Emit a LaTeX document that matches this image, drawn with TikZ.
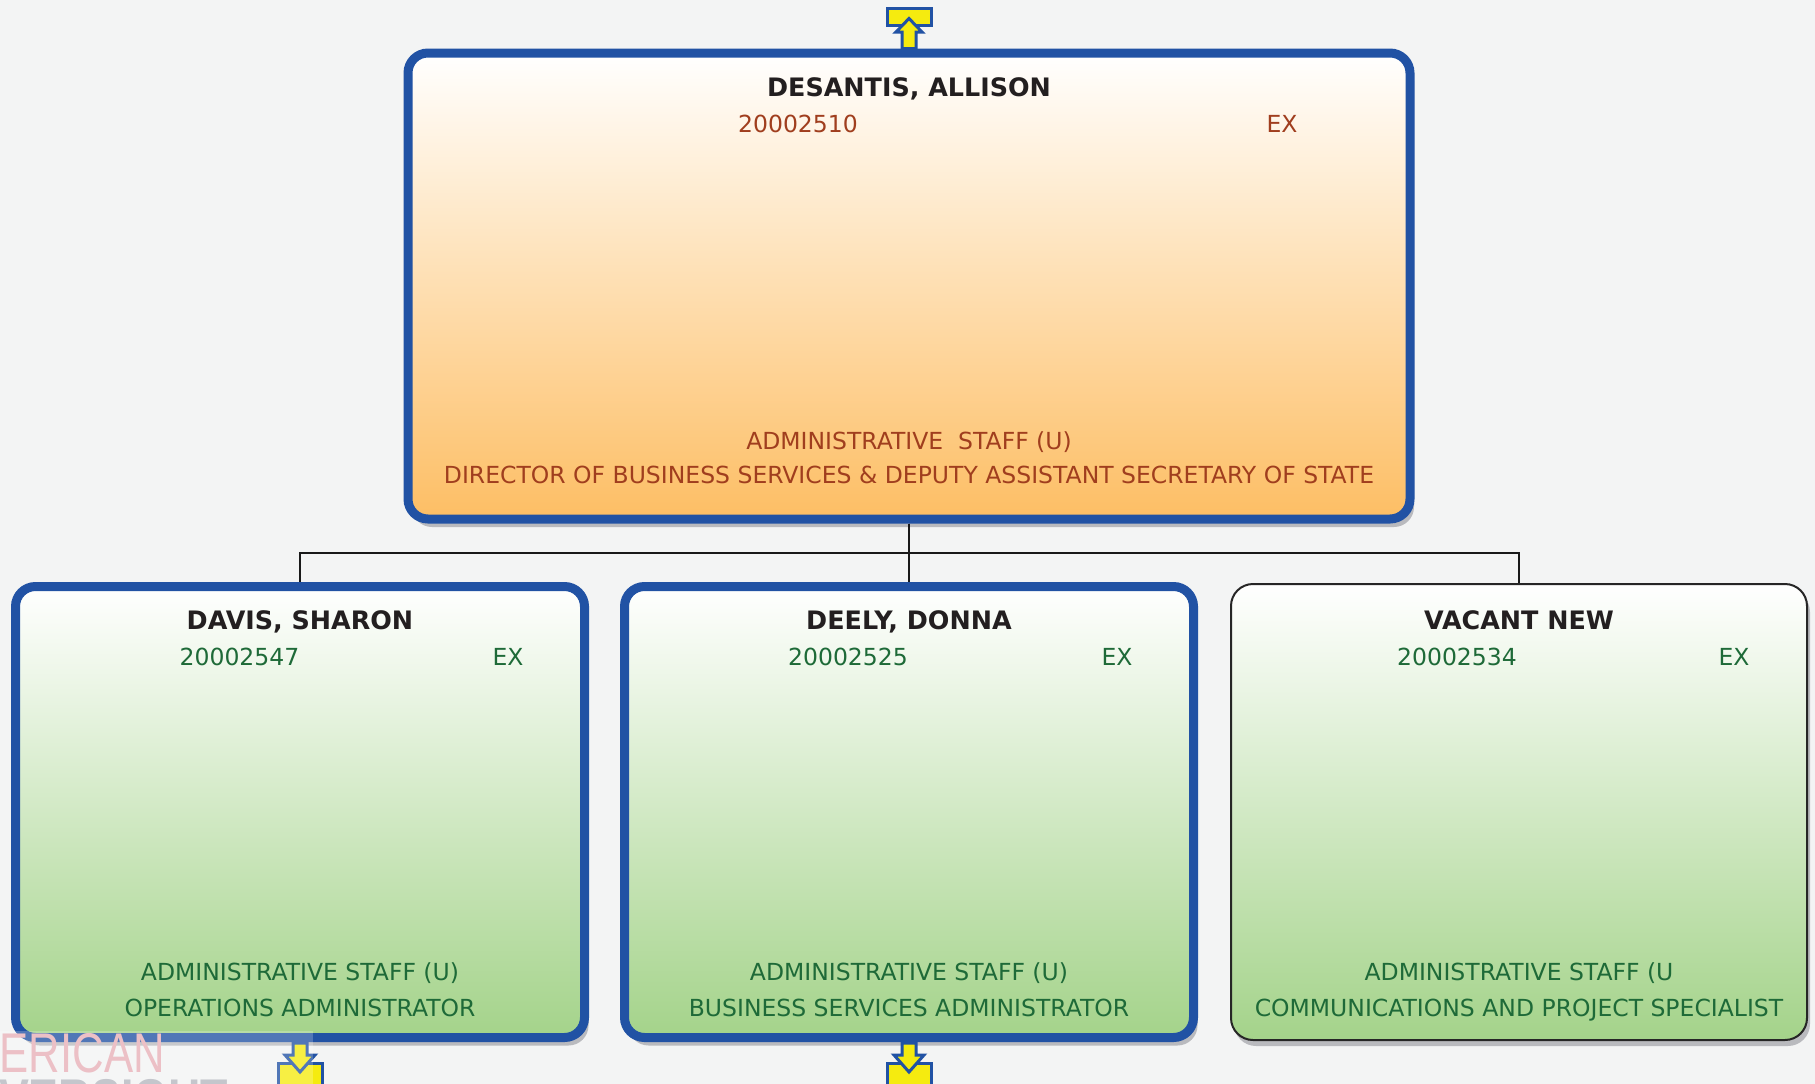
\documentclass[tikz,border=0pt]{standalone}
\usepackage{fontspec}
\setmainfont{DejaVu Sans}
\newfontfamily\wmfont{Liberation Sans}
\usetikzlibrary{shadows}
\definecolor{bg}{RGB}{243,244,244}
\definecolor{boxblue}{RGB}{33,82,164}
\definecolor{orangeB}{RGB}{253,190,100}
\definecolor{greenB}{RGB}{164,211,138}
\definecolor{txtbrown}{RGB}{160,62,30}
\definecolor{txtgreen}{RGB}{30,106,56}
\definecolor{txtname}{RGB}{35,31,32}
\definecolor{iconyellow}{RGB}{245,235,15}
\definecolor{shadowgray}{RGB}{185,186,190}
\definecolor{wmpink}{RGB}{236,192,198}
\definecolor{wmgray}{RGB}{196,198,204}
\begin{document}
\begin{tikzpicture}[x=1pt,y=-1pt,
 box/.style={rectangle, rounded corners=20pt, inner sep=0pt},
 bluebox/.style={box, draw=boxblue, line width=9pt, drop shadow={shadow xshift=4pt, shadow yshift=-8pt, fill=shadowgray, opacity=1}},
 plainbox/.style={box, rounded corners=22pt, draw=black!85, line width=2pt, drop shadow={shadow xshift=3pt, shadow yshift=-6pt, fill=shadowgray, opacity=1}},
 topfill/.style={top color=white, bottom color=orangeB},
 greenfill/.style={top color=white, bottom color=greenB},
 nametxt/.style={anchor=base, inner sep=0pt, font=\fontsize{25.4}{30}\selectfont\bfseries, text=txtname},
 brtxt/.style={anchor=base, inner sep=0pt, font=\fontsize{23.5}{28}\selectfont, text=txtbrown},
 grtxt/.style={brtxt, text=txtgreen},
 conn/.style={draw=black!90, line width=2pt},
 icon/.style={fill=iconyellow, draw=boxblue, line width=3pt, line join=miter},
]
\fill[bg] (0,0) rectangle (1815,1084);
\useasboundingbox (0,0) rectangle (1815,1084);
\clip (0,0) rectangle (1815,1084);

% boxes
\node[bluebox, topfill, minimum width=1002pt, minimum height=466pt] (top) at (909,286) {};
\node[bluebox, greenfill, minimum width=569pt, minimum height=451pt] (c1) at (300,812) {};
\node[bluebox, greenfill, minimum width=569pt, minimum height=451pt] (c2) at (909,812) {};
\node[plainbox, greenfill, minimum width=576pt, minimum height=456pt] (c3) at (1519,812) {};

% connectors
\coordinate (bus) at (0,553);
\draw[conn] (top.south) -- (top.south |- bus) -| (c1.north);
\draw[conn] (top.south) -- (top.south |- bus) -| (c2.north);
\draw[conn] (top.south) -- (top.south |- bus) -| (c3.north);

% icons
\begin{scope}[shift={(top.north)}]
  \draw[icon] (-22,-40) rectangle (22,-23);
  \draw[icon] (0,-30) -- (13,-16.5) -- (7,-16.5) -- (7,0) -- (-7,0) -- (-7,-16.5) -- (-13,-16.5) -- cycle;
\end{scope}
\foreach \c in {c1,c2}{
  \begin{scope}[shift={(\c.south)}]
    \draw[icon] (-22,21.5) rectangle (22,50);
    \draw[icon] (-7,1) -- (7,1) -- (7,13) -- (15,13) -- (0,30) -- (-15,13) -- (-7,13) -- cycle;
  \end{scope}
}

% top box text
\node[nametxt] (tname) at (909,96) {DESANTIS, ALLISON};
\node[brtxt] (tnum) at (798,132) {20002510};
\node[brtxt] (tex) at (1282,132) {EX};
\node[brtxt] (tadm) at (909,449) {ADMINISTRATIVE\ \ STAFF (U)};
\node[brtxt] (ttitle) at (909,483) {DIRECTOR OF BUSINESS SERVICES \& DEPUTY ASSISTANT SECRETARY OF STATE};

% child 1
\node[nametxt] (n1) at (300,629) {DAVIS, SHARON};
\node[grtxt] (num1) at (239.5,665) {20002547};
\node[grtxt] (ex1) at (508,665) {EX};
\node[grtxt] (adm1) at (300,980) {ADMINISTRATIVE STAFF (U)};
\node[grtxt] (tit1) at (300,1016) {OPERATIONS ADMINISTRATOR};

% child 2
\node[nametxt] (n2) at (909,629) {DEELY, DONNA};
\node[grtxt] (num2) at (848,665) {20002525};
\node[grtxt] (ex2) at (1117,665) {EX};
\node[grtxt] (adm2) at (909,980) {ADMINISTRATIVE STAFF (U)};
\node[grtxt] (tit2) at (909,1016) {BUSINESS SERVICES ADMINISTRATOR};

% child 3
\node[nametxt] (n3) at (1519,629) {VACANT NEW};
\node[grtxt] (num3) at (1457,665) {20002534};
\node[grtxt] (ex3) at (1734,665) {EX};
\node[grtxt] (adm3) at (1519,980) {ADMINISTRATIVE STAFF (U};
\node[grtxt] (tit3) at (1519,1016) {COMMUNICATIONS AND PROJECT SPECIALIST};

% watermark
\fill[white, opacity=0.22] (0,1031) rectangle (313,1084);
\node[anchor=base west, inner sep=0pt, text=wmpink] (wm1) at (-66,1072) {\wmfont\fontsize{56}{56}\selectfont\scalebox{0.78}[1]{AMERICAN}};
\node[anchor=base west, inner sep=0pt, text=wmgray] (wm2) at (-36,1118) {\wmfont\fontsize{56}{56}\selectfont\bfseries\scalebox{0.8}[1]{OVERSIGHT}};
\end{tikzpicture}
\end{document}
